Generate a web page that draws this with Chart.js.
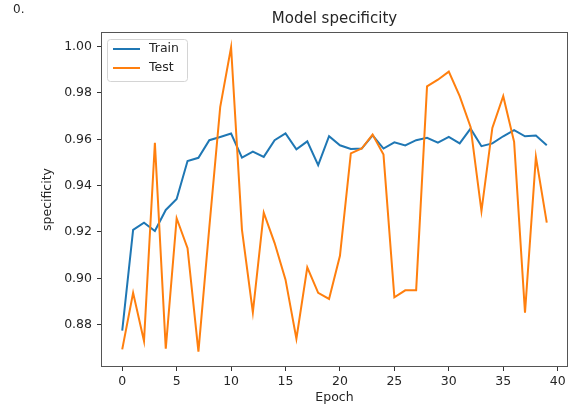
<!DOCTYPE html>
<html>
<head>
<meta charset="utf-8">
<script src="https://cdn.jsdelivr.net/npm/chart.js@4/dist/chart.umd.min.js"></script>
<style>
  html, body { margin: 0; padding: 0; background: #fff; }
  #wrap { width: 574px; height: 408px; }
</style>
</head>
<body>
<div id="wrap"><canvas id="specChart" width="574" height="408"></canvas></div>
<script>
'use strict';

// ── Data ──────────────────────────────────────────────────────────────────────

const epochs = [0, 1, 2, 3, 4, 5, 6, 7, 8, 9, 10, 11, 12, 13, 14, 15, 16, 17, 18, 19,
  20, 21, 22, 23, 24, 25, 26, 27, 28, 29, 30, 31, 32, 33, 34, 35, 36, 37, 38, 39];

const trainSpec = [0.8774, 0.9209, 0.9240, 0.9204, 0.9295, 0.9342, 0.9506, 0.9520, 0.9596, 0.9610,
  0.9625, 0.9521, 0.9547, 0.9524, 0.9596, 0.9625, 0.9557, 0.9591, 0.9488, 0.9613,
  0.9574, 0.9558, 0.9560, 0.9617, 0.9560, 0.9587, 0.9573, 0.9596, 0.9606, 0.9585,
  0.9610, 0.9582, 0.9646, 0.9570, 0.9582, 0.9613, 0.9639, 0.9613, 0.9616, 0.9574];

const testSpec = [0.8693, 0.8937, 0.8729, 0.9585, 0.8696, 0.9259, 0.9130, 0.8683, 0.9220, 0.9739,
  0.9997, 0.9209, 0.8853, 0.9283, 0.9152, 0.8994, 0.8739, 0.9047, 0.8937, 0.8911,
  0.9097, 0.9539, 0.9560, 0.9620, 0.9534, 0.8918, 0.8948, 0.8948, 0.9828, 0.9857,
  0.9892, 0.9786, 0.9653, 0.9290, 0.9649, 0.9786, 0.9589, 0.8851, 0.9524, 0.9240];

const xTicks = [0, 5, 10, 15, 20, 25, 30, 35, 40];
const yTicks = [0.88, 0.90, 0.92, 0.94, 0.96, 0.98, 1.00];

// ── Styling ───────────────────────────────────────────────────────────────────

const FONT = 'DejaVu Sans';
const TEXT = '#262626';
const FRAME = '#555';

// Title, corner mark, axes frame and the in-plot legend box
const decor = {
  id: 'decor',
  afterDraw(chart) {
    const { ctx, chartArea: a } = chart;
    ctx.save();

    ctx.strokeStyle = FRAME;
    ctx.lineWidth = 1;
    ctx.strokeRect(a.left + 0.5, a.top + 0.5, a.right - a.left - 1, a.bottom - a.top - 1);

    ctx.fillStyle = TEXT;
    ctx.textBaseline = 'middle';
    ctx.font = `12px ${FONT}`;
    ctx.textAlign = 'left';
    ctx.fillText('0.', 13, 10);

    ctx.font = `15px ${FONT}`;
    ctx.textAlign = 'center';
    ctx.fillText('Model specificity', (a.left + a.right) / 2, 19);

    // legend
    const bx = a.left + 6, by = a.top + 7, bw = 80, bh = 42;
    ctx.beginPath();
    ctx.roundRect(bx + 0.5, by + 0.5, bw, bh, 3);
    ctx.fillStyle = 'rgba(255,255,255,0.8)';
    ctx.fill();
    ctx.strokeStyle = '#d4d4d4';
    ctx.stroke();

    ctx.font = `12.5px ${FONT}`;
    ctx.textAlign = 'left';
    chart.data.datasets.forEach((ds, i) => {
      const y = by + 10 + i * 19;
      ctx.beginPath();
      ctx.moveTo(bx + 6, y);
      ctx.lineTo(bx + 33, y);
      ctx.strokeStyle = ds.borderColor;
      ctx.lineWidth = 2;
      ctx.stroke();
      ctx.fillStyle = TEXT;
      ctx.fillText(ds.label, bx + 42, y);
    });

    ctx.restore();
  },
};

// ── Chart ─────────────────────────────────────────────────────────────────────

new Chart(document.getElementById('specChart'), {
  type: 'line',
  data: {
    labels: epochs,
    datasets: [
      {
        label: 'Train',
        data: trainSpec,
        borderColor: '#1f77b4',
        borderWidth: 2,
        pointRadius: 0,
        tension: 0,
        order: 1,
      },
      {
        label: 'Test',
        data: testSpec,
        borderColor: '#ff7f0e',
        borderWidth: 2,
        pointRadius: 0,
        tension: 0,
        order: 0,
      },
    ],
  },
  options: {
    responsive: false,
    animation: false,
    layout: { padding: { left: 0, right: 6, top: 32, bottom: 0 } },
    plugins: {
      legend: { display: false },
      tooltip: { enabled: false },
      title: { display: false },
    },
    scales: {
      x: {
        type: 'linear',
        min: -1.95,
        max: 40.95,
        afterBuildTicks: s => { s.ticks = xTicks.map(v => ({ value: v })); },
        afterFit: s => { s.height = 41; },
        grid: { drawOnChartArea: false, tickLength: 4, tickColor: '#333', tickWidth: 1 },
        border: { display: false },
        ticks: {
          color: TEXT,
          padding: 3,
          maxRotation: 0,
          font: { family: FONT, size: 12.5 },
          callback: v => String(v),
        },
        title: {
          display: true,
          text: 'Epoch',
          color: TEXT,
          font: { family: FONT, size: 12.5, lineHeight: 1.2 },
          padding: { top: 0, bottom: 2.5 },
        },
      },
      y: {
        min: 0.8617,
        max: 1.0063,
        afterBuildTicks: s => { s.ticks = yTicks.map(v => ({ value: v })); },
        afterFit: s => { s.width = 101; },
        grid: { drawOnChartArea: false, tickLength: 4, tickColor: '#333', tickWidth: 1 },
        border: { display: false },
        ticks: {
          color: TEXT,
          padding: 5,
          font: { family: FONT, size: 12.5 },
          callback: v => v.toFixed(2),
        },
        title: {
          display: true,
          text: 'specificity',
          color: TEXT,
          font: { family: FONT, size: 12.5, lineHeight: 1.2 },
          padding: { top: 40.5, bottom: 0 },
        },
      },
    },
  },
  plugins: [decor],
});
</script>
</body>
</html>
